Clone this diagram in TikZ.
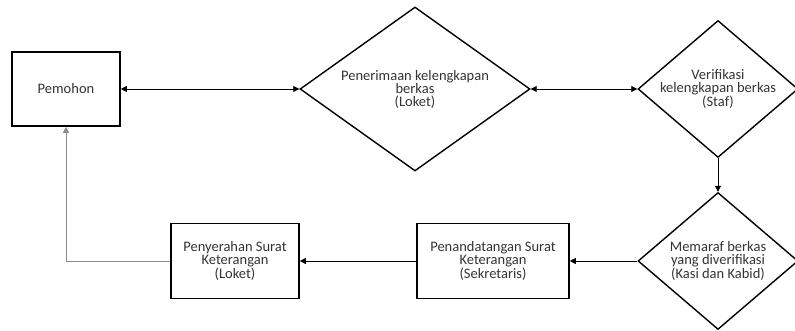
\documentclass[tikz,border=0pt]{standalone}
\usepackage{fontspec}
\setmainfont{Carlito}
\usetikzlibrary{shapes.geometric,arrows.meta}
\begin{document}
\begin{tikzpicture}[x=1pt, y=1pt, >={Triangle[length=6pt,width=6pt]}, line width=0.8pt,
box node/.style={rectangle,draw,line width=1.6pt,align=center,inner sep=2pt},
choice node/.style={diamond,draw,line width=1.4pt,align=center,inner sep=-6pt}]
\useasboundingbox (0,0) rectangle (795,331);
\begin{scope}[every node/.style={font=\fontsize{14.5}{13}\selectfont, text=black!80}]
\node[box node, minimum width=108, minimum height=74] (v1) at (66,242) {Pemohon};
\node[choice node, minimum width=230, minimum height=164, aspect=1.4] (v2) at (415,242) {Penerimaan kelengkapan\\berkas\\(Loket)};
\node[choice node, minimum width=160, minimum height=137, aspect=1.15] (v3) at (718,242) {Verifikasi\\kelengkapan berkas\\(Staf)};
\node[choice node, minimum width=160, minimum height=137, aspect=1.15] (v4) at (718,70) {Memaraf berkas\\yang diverifikasi\\(Kasi dan Kabid)};
\node[box node, minimum width=152, minimum height=75] (v5) at (493,70) {Penandatangan Surat\\Keterangan\\(Sekretaris)};
\node[box node, minimum width=128, minimum height=75] (v6) at (235,70) {Penyerahan Surat\\Keterangan\\(Loket)};
\end{scope}
\draw [<->] (v1) edge (v2);
\draw [<->] (v2) edge (v3);
\draw [->] (v3) edge (v4);
\draw [->] (v4) edge (v5);
\draw [->] (v5) edge (v6);
\draw [->, black!45] (v6) -| (v1);
\end{tikzpicture}
\end{document}
